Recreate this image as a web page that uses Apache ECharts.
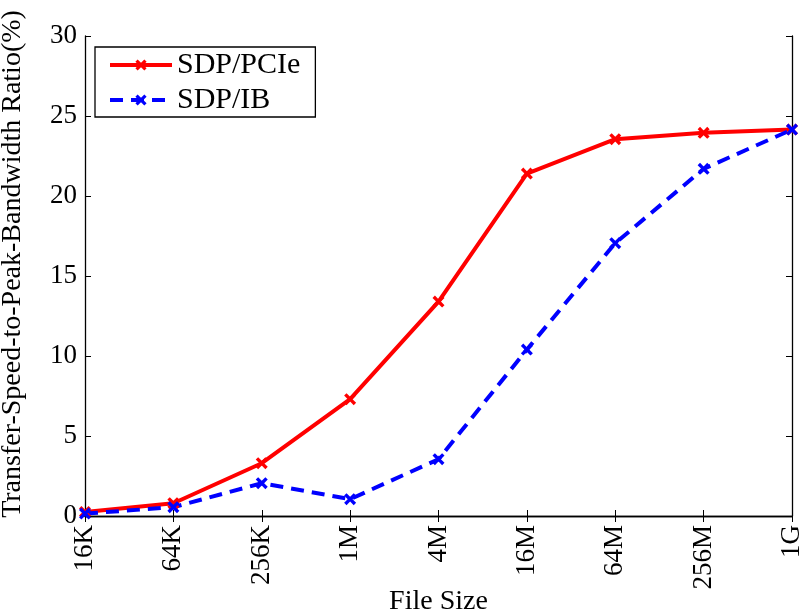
<!DOCTYPE html>
<html><head><meta charset="utf-8">
<script src="https://cdn.jsdelivr.net/npm/echarts@6/dist/echarts.min.js"></script>
<style>html,body{margin:0;padding:0;background:#fff}#c{width:804px;height:616px}</style>
</head><body><div id="c"></div>
<script>
var categories = ['16K','64K','256K','1M','4M','16M','64M','256M','1G'];
var pcie = [0.25, 0.8, 3.3, 7.3, 13.4, 21.4, 23.55, 23.95, 24.15];
var ib = [0.15, 0.55, 2.05, 1.05, 3.55, 10.4, 17.05, 21.7, 24.15];
var yTicks = {min: 0, max: 30, interval: 5};

var FONT = 'Liberation Serif';
var X_SYMBOL = 'path://M0,2 L2,0 L5,3 L8,0 L10,2 L7,5 L10,8 L8,10 L5,7 L2,10 L0,8 L3,5 Z';
var chart = echarts.init(document.getElementById('c'), null, {renderer: 'canvas'});
var axisLine = {show: true, lineStyle: {color: '#000', width: 1.3}};
var tick = {show: true, inside: true, length: 6, lineStyle: {color: '#000', width: 1}};
chart.setOption({
  animation: false,
  backgroundColor: '#fff',
  textStyle: {fontFamily: FONT, color: '#000'},
  grid: {left: 85, right: 12, top: 36, bottom: 100, containLabel: false, outerBoundsMode: 'none'},
  legend: {
    left: 95, top: 47, orient: 'vertical',
    padding: [3, 15, 2, 13], itemGap: 5,
    backgroundColor: '#fff', borderColor: '#000', borderWidth: 1.3,
    itemWidth: 62, itemHeight: 14,
    textStyle: {fontFamily: FONT, fontSize: 30, lineHeight: 30, color: '#000'},
    data: [
      {name: 'SDP/PCIe', lineStyle: {width: 4}},
      {name: 'SDP/IB', lineStyle: {width: 4}}
    ]
  },
  xAxis: [{
    type: 'category', data: categories, boundaryGap: false,
    axisLine: axisLine, axisTick: tick,
    axisLabel: {rotate: 90, fontSize: 27, color: '#000', fontFamily: FONT, margin: 9},
    name: 'File Size', nameLocation: 'middle', nameGap: 72, nameMoveOverlap: false,
    nameTextStyle: {fontSize: 28, color: '#000', fontFamily: FONT},
    splitLine: {show: false}
  }, {
    type: 'category', data: categories, boundaryGap: false, position: 'top',
    axisLine: axisLine, axisTick: tick, axisLabel: {show: false}, splitLine: {show: false}
  }],
  yAxis: [{
    type: 'value', min: yTicks.min, max: yTicks.max, interval: yTicks.interval,
    axisLine: axisLine, axisTick: tick,
    axisLabel: {fontSize: 27, color: '#000', fontFamily: FONT, margin: 8},
    name: 'Transfer-Speed-to-Peak-Bandwidth Ratio(%)', nameLocation: 'middle', nameGap: 58, nameMoveOverlap: false,
    nameTextStyle: {fontSize: 28, color: '#000', fontFamily: FONT, padding: [0, 0, 0, 24]},
    splitLine: {show: false}
  }, {
    type: 'value', min: yTicks.min, max: yTicks.max, interval: yTicks.interval, position: 'right',
    axisLine: axisLine, axisTick: tick, axisLabel: {show: false}, splitLine: {show: false}
  }],
  series: [{
    name: 'SDP/PCIe', type: 'line', data: pcie,
    symbol: X_SYMBOL, symbolSize: 12, showAllSymbol: true,
    lineStyle: {color: '#ff0000', width: 4, type: 'solid'},
    itemStyle: {color: '#ff0000'}
  }, {
    name: 'SDP/IB', type: 'line', data: ib,
    symbol: X_SYMBOL, symbolSize: 12, showAllSymbol: true,
    lineStyle: {color: '#0000ff', width: 4, type: [13, 8]},
    itemStyle: {color: '#0000ff'}
  }]
});
</script></body></html>
